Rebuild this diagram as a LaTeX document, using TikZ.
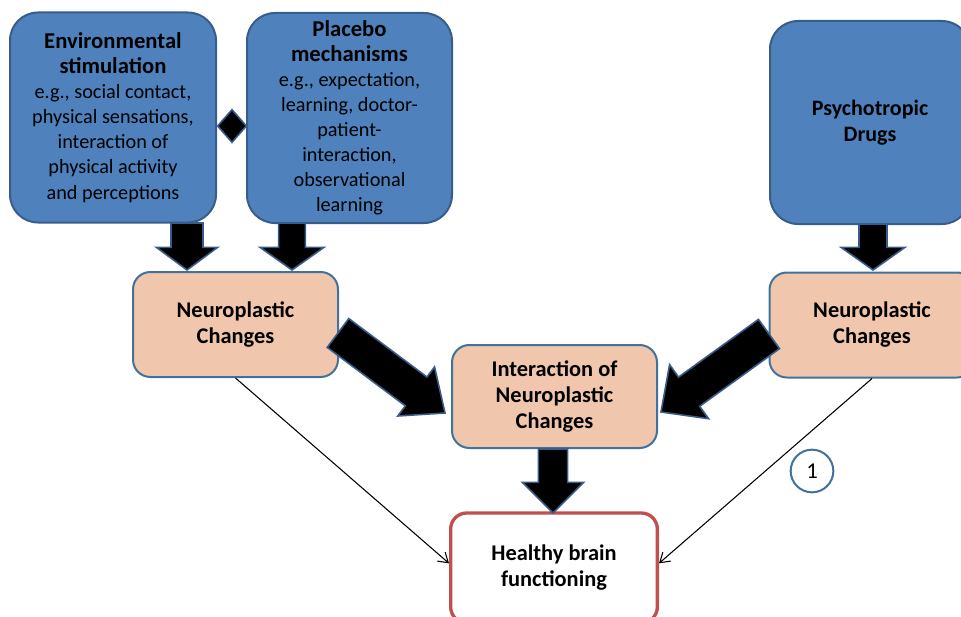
\documentclass[tikz,border=0pt]{standalone}
\usepackage{fontspec}
\setmainfont{Carlito}
\usetikzlibrary{calc,arrows.meta,shapes.geometric}

\definecolor{causeblue}{RGB}{79,129,189}
\definecolor{causeedge}{RGB}{56,93,138}
\definecolor{peach}{RGB}{240,198,172}
\definecolor{peachedge}{RGB}{65,113,156}
\definecolor{brainred}{RGB}{192,80,77}

\newcommand{\headline}[1]{{\fontsize{17}{18.8}\selectfont\bfseries #1}}
% tail, tip, shaft half width, head half width, head length
\newcommand{\fatarrow}[5]{%
	\coordinate (fh) at ($(#2)!#5!(#1)$);
	\filldraw[fat arrow] ($(#1)!#3!90:(#2)$) -- ($(fh)!#3!90:(#2)$) -- ($(fh)!#4!90:(#2)$) -- (#2)
	-- ($(fh)!#4!-90:(#2)$) -- ($(fh)!#3!-90:(#2)$) -- ($(#1)!#3!-90:(#2)$) -- cycle;
}

\begin{document}
\begin{tikzpicture}
	[x=0.75pt,y=-0.75pt,
	cause node/.style={shape=rectangle,rounded corners=21pt,draw=causeedge,line width=1.5pt,fill=causeblue,align=center,inner sep=2pt,font=\fontsize{15.2}{18.8}\selectfont},
	change node/.style={shape=rectangle,rounded corners=13pt,draw=peachedge,line width=1.5pt,fill=peach,align=center,minimum width=153.75pt,font=\fontsize{16.8}{19.5}\selectfont\bfseries},
	brain node/.style={shape=rectangle,rounded corners=12pt,draw=brainred,line width=2.5pt,fill=white,align=center,font=\fontsize{16.8}{19.5}\selectfont\bfseries},
	fat arrow/.style={fill=black,draw=causeedge,line width=1.2pt,line join=miter},
	thin arrow/.style={draw=black,line width=0.8pt,-{Straight Barb[length=7pt,width=9pt]}}]
	\path[use as bounding box,clip] (0,0) rectangle (961,617);
	
	\node [cause node,minimum width=154.5pt,minimum height=157.5pt] (env) at (113,117.5) {\headline{Environmental}\\\headline{stimulation}\\e.g., social contact,\\physical sensations,\\interaction of\\physical activity\\and perceptions};
	\node [cause node,minimum width=153.75pt,minimum height=157.5pt] (placebo) at (349.5,118) {\headline{Placebo}\\\headline{mechanisms}\\e.g., expectation,\\learning, doctor-\\patient-\\interaction,\\observational\\learning};
	\node [cause node,minimum width=150pt,minimum height=152.25pt,font=\fontsize{16.5}{19.5}\selectfont\bfseries] (drugs) at (870,122.5) {Psychotropic\\Drugs};
	\node [shape=diamond,fill=black,draw=causeedge,line width=1.2pt,inner sep=0pt,minimum width=22pt,minimum height=25pt] (link) at (232,126) {};
	
	\node [change node,minimum height=78.75pt] (nl) at (235.5,324.5) {Neuroplastic\\Changes};
	\node [change node,minimum height=78.75pt] (nr) at (872,325) {Neuroplastic\\Changes};
	\node [change node,minimum height=77.25pt] (inter) at (554.5,396.5) {Interaction of\\Neuroplastic\\Changes};
	\node [brain node,minimum width=155pt,minimum height=82.5pt] (brain) at (554,568) {Healthy brain\\functioning};
	\node [shape=circle,draw=peachedge,line width=1.5pt,fill=white,minimum size=32pt,inner sep=0pt,font=\fontsize{17}{19}\selectfont] (one) at (812,471) {1};
	
	\coordinate (a1) at (187,223);
	\coordinate (b1) at (187,270);
	\coordinate (a2) at (292,223);
	\coordinate (b2) at (292,270);
	\coordinate (a3) at (873,224);
	\coordinate (b3) at (873,270);
	\coordinate (a4) at (553,449);
	\coordinate (b4) at (553,513);
	\coordinate (a5) at (338,333);
	\coordinate (b5) at (445,413);
	\coordinate (a6) at (769,334);
	\coordinate (b6) at (661,412);
	
	\fatarrow{a1}{b1}{12pt}{23pt}{17pt}
	\fatarrow{a2}{b2}{10pt}{24pt}{17pt}
	\fatarrow{a3}{b3}{10.5pt}{24pt}{17pt}
	\fatarrow{a4}{b4}{11pt}{23pt}{23pt}
	\fatarrow{a5}{b5}{13.5pt}{23pt}{27pt}
	\fatarrow{a6}{b6}{13.5pt}{25pt}{26pt}
	
	\path[]
	(nl.south) edge[thin arrow] ([yshift=3.5pt]brain.west)
	(nr.south) edge[thin arrow] ([yshift=3.5pt]brain.east)
	;
	
\end{tikzpicture}
\end{document}
